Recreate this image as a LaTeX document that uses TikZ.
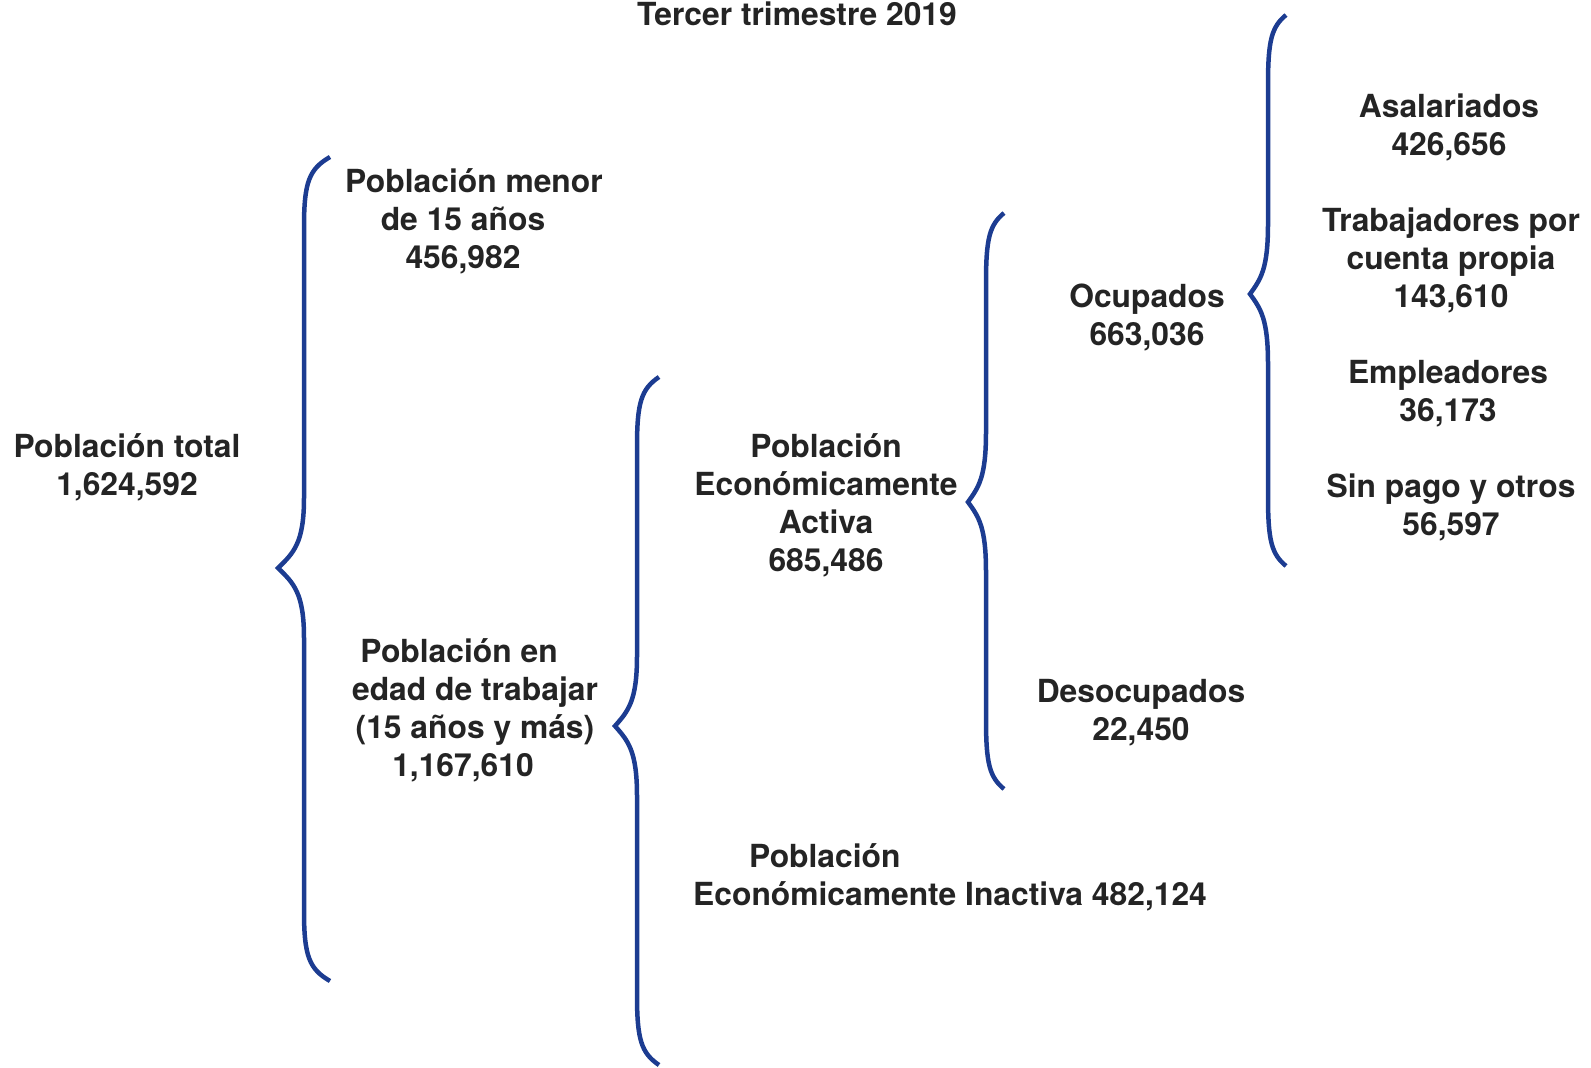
\documentclass[tikz,border=0pt]{standalone}
\usepackage{fontspec}
\setmainfont{TeX Gyre Heros}
\usetikzlibrary{calc}
\definecolor{azul}{RGB}{28,60,145}
\definecolor{tinta}{RGB}{36,36,36}
\tikzset{
    texto/.style={align=center,anchor=base,inner sep=0pt,text=tinta,
      font=\fontsize{31.8}{38}\selectfont\bfseries},
    llave/.style={draw=azul,line width=4.5pt},
  }
% llave: x de la linea, arriba, punta, abajo, ancho
\newcommand{\llave}[5]{%
  \draw[llave] (#1+#5,#2) .. controls +(-0.8*#5,12) and +(0,-45) .. (#1,#2+70)
    -- (#1,#3-70) .. controls +(0,45) and +(0.6*#5,-15) .. (#1-#5,#3)
    .. controls +(0.6*#5,15) and +(0,-45) .. (#1,#3+70)
    -- (#1,#4-70) .. controls +(0,45) and +(-0.8*#5,-12) .. (#1+#5,#4);
}

\begin{document}
\begin{tikzpicture}[x=1pt,y=-1pt]
  \useasboundingbox (0,0) rectangle (1591,1068);
  %titulo
  \node[texto] (titulo) at (797,25) {Tercer trimestre 2019};
  %primer nivel (base = ultima linea)
  \node[texto] (total) at (127,495) {Población total\\1,624,592};
  \llave{304}{157}{568}{981}{26}
  \node[texto] (menor) at (463,268) {\makebox[22pt]{}Población menor\\de 15 años\\456,982};
  \node[texto] (edad) at (475,776)
    {Población en\makebox[32pt]{}\\edad de trabajar\\(15 años y más)\\1,167,610\makebox[24pt]{}};
  %segundo nivel
  \llave{637}{377}{726}{1065}{22}
  \node[texto] (pea) at (826,571) {Población\\Económicamente\\Activa\\685,486};
  \node[texto,anchor=base west] (pei) at (693,867)
    {\begin{tabular}[t]{@{}c@{}l@{}}Población&\\Económicamente&\ Inactiva 482,124\end{tabular}};
  %tercer nivel
  \llave{986}{213}{502}{789}{18}
  \node[texto] (ocup) at (1147,345) {Ocupados\\663,036};
  \node[texto] (desocup) at (1141,740) {Desocupados\\22,450};
  %cuarto nivel
  \llave{1268}{15}{294}{566}{18}
  \node[texto] (asal) at (1449,155) {Asalariados\\426,656};
  \node[texto] (propia) at (1451,307) {Trabajadores por\\cuenta propia\\143,610};
  \node[texto] (empl) at (1448,421) {Empleadores\\36,173};
  \node[texto] (sinpago) at (1451,535) {Sin pago y otros\\56,597};
\end{tikzpicture}
\end{document}
